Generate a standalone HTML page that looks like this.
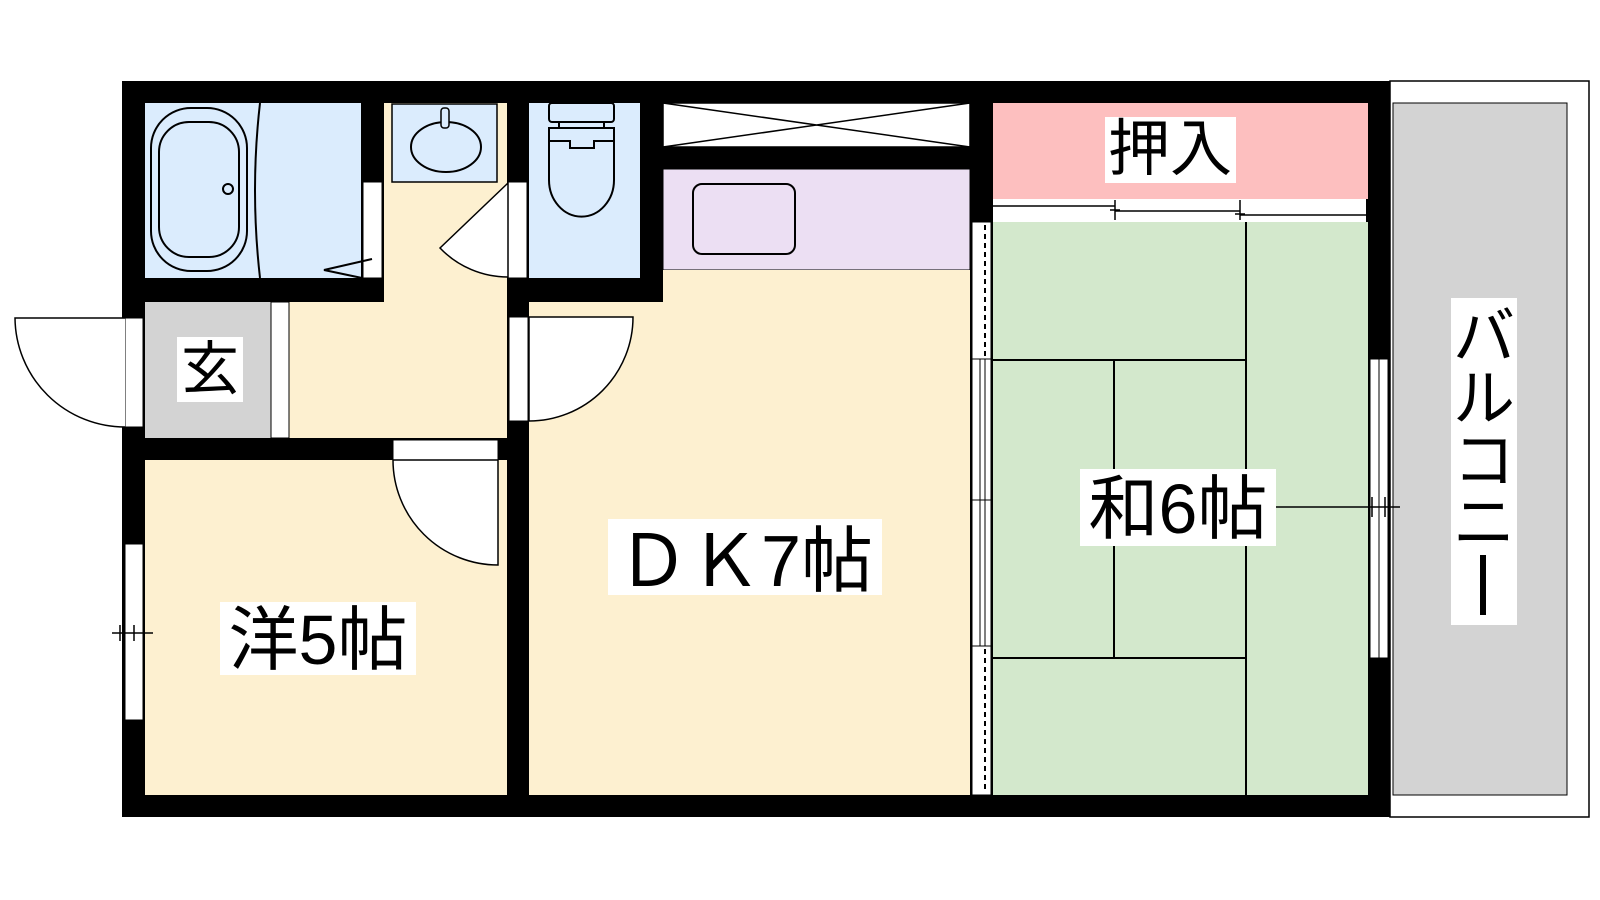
<!DOCTYPE html>
<html><head><meta charset="utf-8"><style>
html,body{margin:0;padding:0;background:#fff;width:1600px;height:900px;overflow:hidden}
svg text{font-family:"Liberation Sans","Noto Sans CJK JP",sans-serif;fill:#000}
</style></head><body>
<svg width="1600" height="900" viewBox="0 0 1600 900" xmlns="http://www.w3.org/2000/svg">
<!-- balcony -->
<rect x="1390" y="81" width="199" height="736" fill="#fff" stroke="#000" stroke-width="1.5"/>
<rect x="1393" y="103" width="174" height="692" fill="#d3d3d3" stroke="#000" stroke-width="1"/>
<!-- walls base -->
<rect x="122" y="81" width="1268" height="736" fill="#000"/>
<!-- bath -->
<rect x="145" y="103" width="216" height="175" fill="#dbecfd"/>
<rect x="151" y="108" width="96" height="163" rx="40" fill="none" stroke="#000" stroke-width="2"/>
<rect x="159" y="122" width="80" height="135" rx="30" fill="none" stroke="#000" stroke-width="2"/>
<circle cx="228" cy="189" r="5" fill="none" stroke="#000" stroke-width="2"/>
<path d="M260 103 Q250 190 260 278" fill="none" stroke="#000" stroke-width="2"/>
<rect x="363" y="182" width="19" height="96" fill="#fff" stroke="#000" stroke-width="1"/>
<polyline points="372,259 324,270 362,278" fill="none" stroke="#000" stroke-width="2"/>
<!-- washroom + corridor -->
<rect x="384" y="103" width="123" height="199" fill="#fdf0d0"/>
<rect x="289" y="302" width="218" height="136" fill="#fdf0d0"/>
<rect x="392" y="104" width="105" height="78" fill="#dbecfd" stroke="#000" stroke-width="1.5"/>
<ellipse cx="446" cy="147" rx="35" ry="25" fill="none" stroke="#000" stroke-width="2"/>
<rect x="441" y="108" width="8" height="20" rx="3" fill="#dbecfd" stroke="#000" stroke-width="1.5"/>
<!-- genkan -->
<rect x="145" y="302" width="126" height="136" fill="#d3d3d3"/>
<rect x="271" y="302" width="18" height="136" fill="#fff" stroke="#000" stroke-width="1"/>
<rect x="177" y="337" width="66" height="65" fill="#fff"/>
<text x="210" y="389" font-size="58" text-anchor="middle">玄</text>
<!-- entrance door -->
<rect x="125" y="318" width="18" height="109" fill="#fff" stroke="#000" stroke-width="1"/>
<path d="M125 318 L15 318 A110 110 0 0 0 125 427" fill="#fff" stroke="#000" stroke-width="1.5"/>
<!-- toilet -->
<rect x="529" y="103" width="111" height="175" fill="#dbecfd"/>
<rect x="549" y="103" width="65" height="19" rx="3" fill="none" stroke="#000" stroke-width="2"/>
<path d="M559 122 V128 M604 122 V128" stroke="#000" stroke-width="2"/>
<path d="M549 128 H614 V180 A32 36 0 0 1 549 180 Z" fill="none" stroke="#000" stroke-width="2"/>
<path d="M549 141 H570 V148 H594 V141 H614" fill="none" stroke="#000" stroke-width="2"/>
<rect x="508" y="182" width="19" height="96" fill="#fff" stroke="#000" stroke-width="1"/>
<path d="M508 183 L440 248 A94 94 0 0 0 508 277 Z" fill="#fff" stroke="#000" stroke-width="1.5"/>
<!-- storage X -->
<rect x="663" y="103" width="307" height="44" fill="#fff" stroke="#000" stroke-width="1.5"/>
<path d="M663 103 L970 147 M970 103 L663 147" stroke="#000" stroke-width="1.5"/>
<!-- kitchen -->
<rect x="663" y="169" width="307" height="101" fill="#ecdff3" stroke="#000" stroke-width="1"/>
<rect x="693" y="184" width="102" height="70" rx="9" fill="none" stroke="#000" stroke-width="2"/>
<!-- DK -->
<rect x="529" y="302" width="441" height="493" fill="#fdf0d0"/>
<rect x="663" y="270" width="307" height="32" fill="#fdf0d0"/>
<rect x="509" y="317" width="19" height="104" fill="#fff" stroke="#000" stroke-width="1"/>
<path d="M529 317 L633 317 A104 104 0 0 1 529 421 Z" fill="#fff" stroke="#000" stroke-width="1.5"/>
<rect x="608" y="519" width="274" height="76" fill="#fff"/>
<text x="745" y="586" font-size="72" text-anchor="middle">ＤＫ7帖</text>
<!-- western room -->
<rect x="145" y="460" width="362" height="335" fill="#fdf0d0"/>
<rect x="393" y="440" width="105" height="20" fill="#fff" stroke="#000" stroke-width="1"/>
<path d="M498 460 L393 460 A105 105 0 0 0 498 565 Z" fill="#fff" stroke="#000" stroke-width="1.5"/>
<rect x="125" y="544" width="18" height="176" fill="#fff" stroke="#000" stroke-width="1"/>
<path d="M112 633 H153 M120 625 V641 M134 625 V641" stroke="#000" stroke-width="1.5"/>
<rect x="220" y="602" width="196" height="73" fill="#fff"/>
<text x="318" y="664" font-size="70" text-anchor="middle">洋5帖</text>
<!-- oshiire -->
<rect x="993" y="103" width="375" height="96" fill="#fdbfbf"/>
<rect x="993" y="199" width="373" height="23" fill="#fff"/>
<path d="M993 206 H1115 M1115 211 H1240 M1240 215 H1366 M1115 200 V220 M1240 200 V220 M1110 210 H1120 M1235 214 H1245" stroke="#000" stroke-width="1.5"/>
<rect x="1105" y="117" width="131" height="66" fill="#fff"/>
<text x="1170" y="170" font-size="62" text-anchor="middle">押入</text>
<!-- tatami -->
<rect x="993" y="222" width="375" height="573" fill="#d3e8cc"/>
<path d="M1246 222 V795 M993 360 H1246 M993 658 H1246 M1114 360 V658" stroke="#000" stroke-width="2"/>
<!-- divider window -->
<rect x="972" y="222" width="19" height="573" fill="#fff" stroke="#000" stroke-width="1"/>
<path d="M985 225 V357 M985 649 V792" stroke="#000" stroke-width="2" stroke-dasharray="5,4"/>
<path d="M972 359 H993 M972 500 H993 M972 646 H993 M980 359 V646 M985 359 V646" stroke="#000" stroke-width="1"/>
<!-- right window -->
<rect x="1370" y="359" width="18" height="299" fill="#fff" stroke="#000" stroke-width="1"/>
<path d="M1379 359 V658" stroke="#000" stroke-width="1"/>
<rect x="1080" y="469" width="196" height="77" fill="#fff"/>
<text x="1178" y="533" font-size="70" text-anchor="middle">和6帖</text>
<path d="M1276 507 H1400 M1372 497 V517 M1385 497 V517" stroke="#000" stroke-width="1.5"/>
<!-- balcony label -->
<rect x="1451" y="298" width="66" height="327" fill="#fff"/>
<text font-size="62" text-anchor="middle">
<tspan x="1484" y="358">バ</tspan><tspan x="1484" y="420">ル</tspan><tspan x="1484" y="482">コ</tspan><tspan x="1484" y="544">ニ</tspan>
</text>
<rect x="1480" y="555" width="6" height="60" fill="#000"/>
</svg>
</body></html>
